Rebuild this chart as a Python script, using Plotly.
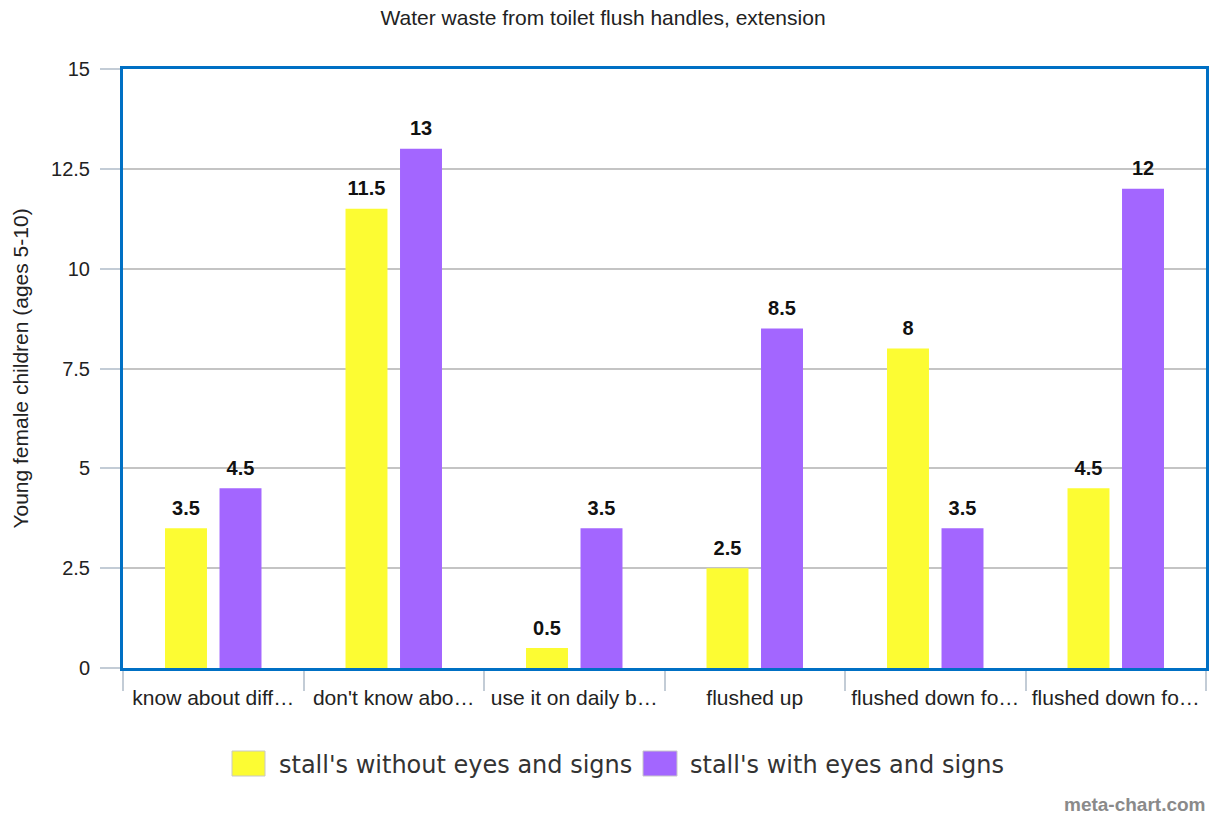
import plotly.graph_objects as go

# Chart data
categories = ["know about diff…", "don't know abo…", "use it on daily b…",
              "flushed up", "flushed down fo…", "flushed down fo…"]
series_names = ["stall's without eyes and signs", "stall's with eyes and signs"]
without_signs = [3.5, 11.5, 0.5, 2.5, 8, 4.5]
with_signs = [4.5, 13, 3.5, 8.5, 3.5, 12]
y_ticks = [0, 2.5, 5, 7.5, 10, 12.5, 15]

colors = ["#fcfc33", "#a366ff"]
positions = list(range(len(categories)))

W, H = 1217, 816
L, R, T, B = 123, 11, 69, 148
FONT = "Liberation Sans, Arial"
BARGAP = 0.396


def px_to_paper(px, py):
    return (px - L) / (W - L - R), (H - B - py) / (H - T - B)


fig = go.Figure()
for i, (name, vals, col) in enumerate(zip(series_names, [without_signs, with_signs], colors)):
    fig.add_trace(go.Bar(
        x=positions, y=vals, name=name, offsetgroup=str(i),
        marker=dict(color=col, line=dict(width=0)),
        showlegend=False,
    ))
for i, vals in enumerate([without_signs, with_signs]):
    # value labels, grouped the same way as the bars
    fig.add_trace(go.Scatter(
        x=positions, y=vals, offsetgroup=str(i), mode="markers+text",
        marker=dict(size=12, color="rgba(0,0,0,0)"),
        text=[f"<b>{v:g}</b>" for v in vals], textposition="top center",
        textfont=dict(family=FONT, size=20, color="#111111"),
        cliponaxis=False, showlegend=False, hoverinfo="skip",
    ))

fig.update_layout(
    width=W, height=H,
    margin=dict(l=L, r=R, t=T, b=B, autoexpand=False),
    paper_bgcolor="white", plot_bgcolor="white",
    barmode="group", bargap=BARGAP, bargroupgap=0.23,
    scattermode="group", scattergap=BARGAP,
    font=dict(family=FONT, size=20, color="#222222"),
    title=dict(text="Water waste from toilet flush handles, extension",
               x=0.4955, xanchor="center", y=0.978, yanchor="middle",
               font=dict(size=21, color="#222222")),
)

fig.update_xaxes(
    range=[-0.5, len(categories) - 0.5],
    tickmode="array", tickvals=positions, ticktext=categories,
    ticks="outside", ticklen=9, tickcolor="rgba(0,0,0,0)",
    showgrid=False, zeroline=False,
    showline=True, mirror=True, linecolor="#0070c4", linewidth=3,
    tickfont=dict(size=21, color="#222222"),
    minor=dict(tickmode="array",
               tickvals=[p - 0.5 for p in positions] + [positions[-1] + 0.5],
               ticks="outside", ticklen=20, tickwidth=2, tickcolor="#c3ccd6",
               showgrid=False),
)

fig.update_yaxes(
    range=[0, 15], tickmode="array", tickvals=y_ticks,
    ticktext=[f"{v:g}" for v in y_ticks],
    ticks="outside", ticklen=20, tickwidth=2, tickcolor="#c3ccd6",
    ticklabelstandoff=6,
    showgrid=True, gridcolor="#c4c4c4", gridwidth=2, zeroline=False,
    showline=True, mirror=True, linecolor="#0070c4", linewidth=3,
    tickfont=dict(size=20, color="#222222"),
    title=dict(text="Young female children (ages 5-10)",
               font=dict(size=21, color="#222222"), standoff=17),
)

# Legend drawn below the chart: (swatch left, swatch right, text left)
legend_items = [(232, 265, 277), (643, 677, 688)]
shapes = []
annotations = []
for (sx0, sx1, tx), name, col in zip(legend_items, series_names, colors):
    x0, y0 = px_to_paper(sx0, 776)
    x1, y1 = px_to_paper(sx1, 751)
    shapes.append(dict(type="rect", xref="paper", yref="paper",
                       x0=x0, y0=y0, x1=x1, y1=y1,
                       fillcolor=col, line=dict(color="#c8c8c8", width=1)))
    ax, ay = px_to_paper(tx, 765)
    annotations.append(dict(text=name, xref="paper", yref="paper", x=ax, y=ay,
                            xanchor="left", yanchor="middle", showarrow=False,
                            font=dict(family="DejaVu Sans", size=24, color="#333333")))

wx, wy = px_to_paper(1208, 804)
annotations.append(dict(text="<b>meta-chart.com</b>", xref="paper", yref="paper",
                        x=wx, y=wy, xanchor="right", yanchor="middle",
                        showarrow=False,
                        font=dict(family=FONT, size=19, color="#8a8a8a")))

fig.update_layout(shapes=shapes, annotations=annotations)

fig.write_html("out.html")
